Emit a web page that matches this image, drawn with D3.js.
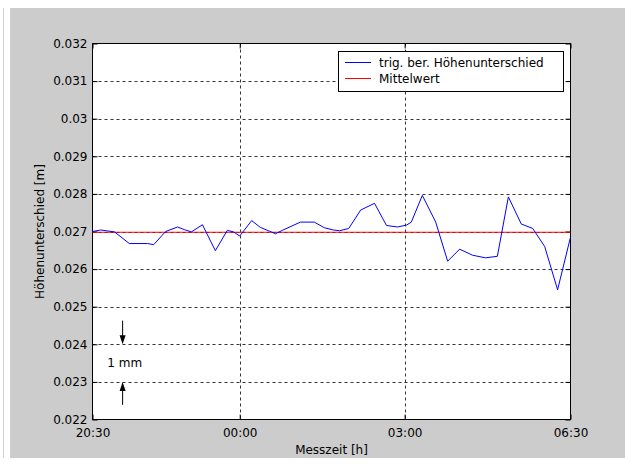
<!DOCTYPE html>
<html>
<head>
<meta charset="utf-8">
<script src="https://cdn.jsdelivr.net/npm/d3@7"></script>
<style>
  body { margin: 0; background: #fff; }
  svg { display: block; }
  text { font-family: "DejaVu Sans", sans-serif; font-size: 12px; fill: #000; }
</style>
</head>
<body>
<svg width="625" height="466"></svg>
<script>
// measurement time on the axis (h after 20:30) and height difference [m]
const zeit = [0.00, 0.17, 0.46, 0.77, 1.15, 1.28, 1.53, 1.78, 1.92, 2.07, 2.30, 2.57,
  2.82, 2.95, 3.08, 3.33, 3.51, 3.70, 3.83, 3.97, 4.35, 4.64, 4.85, 5.04, 5.17, 5.36,
  5.61, 5.90, 6.15, 6.38, 6.57, 6.67, 6.90, 7.18, 7.43, 7.68, 7.95, 8.22, 8.47, 8.70,
  8.97, 9.21, 9.46, 9.73, 10.00];
const hoehe = [0.02700, 0.02704, 0.02699, 0.02668, 0.02668, 0.02665, 0.02700, 0.02712,
  0.02705, 0.02699, 0.02718, 0.02649, 0.02703, 0.02699, 0.02688, 0.02729, 0.02711,
  0.02701, 0.02694, 0.02703, 0.02725, 0.02725, 0.02710, 0.02704, 0.02702, 0.02708,
  0.02757, 0.02775, 0.02716, 0.02712, 0.02717, 0.02725, 0.02796, 0.02725, 0.02621,
  0.02653, 0.02637, 0.02630, 0.02634, 0.02792, 0.02720, 0.02708, 0.02660, 0.02545,
  0.02685];
const mittelwert = 0.02698;

// axis ticks
const xTickPos = [0, 3.08, 6.53, 10];
const xTickLabels = ['20:30', '00:00', '03:00', '06:30'];
const yTicks = [0.022, 0.023, 0.024, 0.025, 0.026, 0.027, 0.028, 0.029, 0.03, 0.031, 0.032];
const legendLabels = ['trig. ber. Höhenunterschied', 'Mittelwert'];
const legendColors = ['#0000ff', '#ff0000'];

const svg = d3.select('svg');

// figure background
svg.append('rect').attr('x', 10).attr('y', 8).attr('width', 615).attr('height', 450)
    .attr('fill', '#cccccc');
svg.append('line').attr('x1', 3.5).attr('x2', 3.5).attr('y1', 8).attr('y2', 458)
    .attr('stroke', '#d0d0d0');

const pLeft = 92.5, pRight = 570.5, pTop = 43.5, pBottom = 419.5;

const x = d3.scaleLinear().domain([0, 10]).range([pLeft, pRight]);
const y = d3.scaleLinear().domain([0.022, 0.032]).range([pBottom, pTop]);

// plot area
svg.append('rect').attr('x', pLeft).attr('y', pTop)
    .attr('width', pRight - pLeft).attr('height', pBottom - pTop)
    .attr('fill', '#fff');

// grid
const grid = svg.append('g').attr('stroke', '#333').attr('stroke-dasharray', '3,3');
grid.selectAll('.gy').data(yTicks.slice(1, -1)).join('line')
    .attr('x1', pLeft).attr('x2', pRight)
    .attr('y1', d => Math.round(y(d)) + 0.5).attr('y2', d => Math.round(y(d)) + 0.5);
grid.selectAll('.gx').data(xTickPos.slice(1, -1)).join('line')
    .attr('x1', d => Math.round(x(d)) + 0.5).attr('x2', d => Math.round(x(d)) + 0.5)
    .attr('y1', pTop).attr('y2', pBottom);

// axes (ticks inside, mirrored)
const xAxis = d3.axisBottom(x).tickValues(xTickPos)
    .tickFormat((d, i) => xTickLabels[i]).tickSizeInner(-5).tickSizeOuter(0).tickPadding(0);
const yAxis = d3.axisLeft(y).tickValues(yTicks)
    .tickFormat(d3.format('')).tickSizeInner(-5).tickSizeOuter(0).tickPadding(5);

const gx = svg.append('g').attr('transform', `translate(0,${pBottom})`).call(xAxis);
const gy = svg.append('g').attr('transform', `translate(${pLeft},0)`).call(yAxis);
svg.append('g').attr('transform', `translate(0,${pTop})`)
    .call(d3.axisTop(x).tickValues(xTickPos).tickFormat('').tickSizeInner(-5).tickSizeOuter(0));
svg.append('g').attr('transform', `translate(${pRight},0)`)
    .call(d3.axisRight(y).tickValues(yTicks).tickFormat('').tickSizeInner(-5).tickSizeOuter(0));

svg.selectAll('.domain').remove();
svg.selectAll('.tick line').attr('stroke', '#000');
svg.selectAll('.tick text').attr('font-family', null).attr('font-size', null).attr('fill', '#000');
gx.selectAll('.tick text').attr('dy', '17px');

svg.append('rect').attr('x', pLeft).attr('y', pTop)
    .attr('width', pRight - pLeft).attr('height', pBottom - pTop)
    .attr('fill', 'none').attr('stroke', '#000');

// data
svg.append('line')
    .attr('x1', pLeft).attr('x2', pRight)
    .attr('y1', y(mittelwert)).attr('y2', y(mittelwert))
    .attr('stroke', legendColors[1]);

const line = d3.line().x((d, i) => x(zeit[i])).y(d => y(d));
svg.append('path').datum(hoehe)
    .attr('d', line)
    .attr('fill', 'none')
    .attr('stroke', legendColors[0])
    .attr('stroke-width', 1);

// 1 mm annotation
const arrowX = 0.63;
const ann = svg.append('g');
ann.append('line').attr('x1', x(arrowX)).attr('x2', x(arrowX))
    .attr('y1', y(0.02463)).attr('y2', y(0.024) - 4).attr('stroke', '#000');
ann.append('path').attr('fill', '#000')
    .attr('d', `M${x(arrowX) - 3},${y(0.024) - 9}L${x(arrowX) + 3},${y(0.024) - 9}L${x(arrowX)},${y(0.024)}Z`);
ann.append('line').attr('x1', x(arrowX)).attr('x2', x(arrowX))
    .attr('y1', y(0.02239)).attr('y2', y(0.023) + 4).attr('stroke', '#000');
ann.append('path').attr('fill', '#000')
    .attr('d', `M${x(arrowX) - 3},${y(0.023) + 9}L${x(arrowX) + 3},${y(0.023) + 9}L${x(arrowX)},${y(0.023)}Z`);
ann.append('text').attr('x', x(0.31)).attr('y', y(0.0235) + 4).text('1 mm');

// axis titles
svg.append('text').attr('x', (pLeft + pRight) / 2).attr('y', 454)
    .attr('text-anchor', 'middle').text('Messzeit [h]');
svg.append('text')
    .attr('transform', `translate(44,${(pTop + pBottom) / 2}) rotate(-90)`)
    .attr('text-anchor', 'middle').text('Höhenunterschied [m]');

// legend
const lg = svg.append('g');
lg.append('rect').attr('x', 338.5).attr('y', 51.5).attr('width', 225).attr('height', 40)
    .attr('fill', '#fff').attr('stroke', '#000');
legendLabels.forEach((t, i) => {
  const ly = 62.5 + i * 16;
  lg.append('line').attr('x1', 345).attr('x2', 371).attr('y1', ly).attr('y2', ly)
      .attr('stroke', legendColors[i]);
  lg.append('text').attr('x', 379).attr('y', ly + 4).text(t);
});
</script>
</body>
</html>
